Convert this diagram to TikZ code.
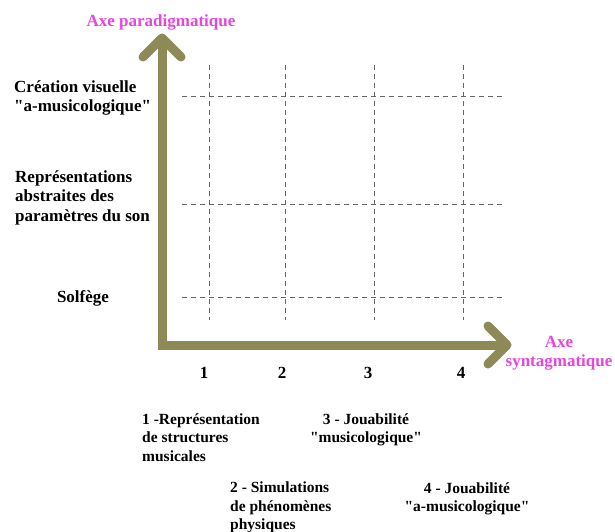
\documentclass[tikz,border=0pt]{standalone}
\usepackage{fontspec}
\setmainfont{Liberation Serif}[Ligatures=TeXOff]
\definecolor{axolive}{RGB}{142,138,88}
\definecolor{axmag}{RGB}{230,70,220}
\begin{document}
\begin{tikzpicture}[x=1pt,y=-1pt,
  lbl/.style={font=\bfseries\fontsize{17}{19.5}\selectfont, inner sep=0pt},
  leg/.style={font=\bfseries\fontsize{15.5}{18.5}\selectfont, inner sep=0pt},
  axlbl/.style={lbl, text=axmag},
  gridline/.style={draw=black!60, line width=0.6pt, dash pattern=on 5pt off 4pt},
  axisline/.style={draw=axolive, line width=9pt},
  axishead/.style={draw=axolive, line width=9pt, line cap=round, line join=round}]
\useasboundingbox (0,0) rectangle (615,532);
% grid
\foreach \x/\n in {209/v1,285/v2,374/v3,463/v4}{
  \coordinate (\n t) at (\x,65);
  \coordinate (\n b) at (\x,320);
  \draw[gridline] (\n t) -- (\n b);
}
\foreach \y/\n in {96/h1,204/h2,297/h3}{
  \coordinate (\n l) at (182,\y);
  \coordinate (\n r) at (502,\y);
  \draw[gridline] (\n l) -- (\n r);
}
% axes
\coordinate (O) at (162,345);
\coordinate (Ytip) at (162,38);
\coordinate (Xtip) at (507,345);
\coordinate (Yend) at (162,42);
\coordinate (Xend) at (503,345);
\draw[axisline, line join=miter] (Yend) -- (O) -- (Xend);
\draw[axishead] (Ytip) ++(-19,19) -- (Ytip) -- +(19,19);
\draw[axishead] (Xtip) ++(-19,-19) -- (Xtip) -- +(-19,19);
% axis labels
\node[axlbl, anchor=base] (yl) at (161,27) {Axe paradigmatique};
\node[axlbl, anchor=base, align=center] (xl) at (559,366.5) {Axe\\syntagmatique};
% row labels
\node[lbl, anchor=base west, align=left] (r3) at (14,111.5) {Création visuelle\\"a-musicologique"};
\node[lbl, anchor=base west, align=left] (r2) at (15,221) {Représentations\\abstraites des\\paramètres du son};
\node[lbl, anchor=base] (r1) at (83,302) {Solfège};
% column numbers
\node[lbl, anchor=base] (c1) at (204,378) {1};
\node[lbl, anchor=base] (c2) at (282,378) {2};
\node[lbl, anchor=base] (c3) at (368,378) {3};
\node[lbl, anchor=base] (c4) at (461,378) {4};
% legends
\node[leg, anchor=base west, align=left] (l1) at (142,461) {1 -Représentation\\de structures\\musicales};
\node[leg, anchor=base, align=center] (l3) at (366,442.5) {3 - Jouabilité\\"musicologique"};
\node[leg, anchor=base west, align=left] (l2) at (230,529.5) {2 - Simulations\\de phénomènes\\physiques};
\node[leg, anchor=base, align=center] (l4) at (467,511.5) {4 - Jouabilité\\"a-musicologique"};
\end{tikzpicture}
\end{document}
